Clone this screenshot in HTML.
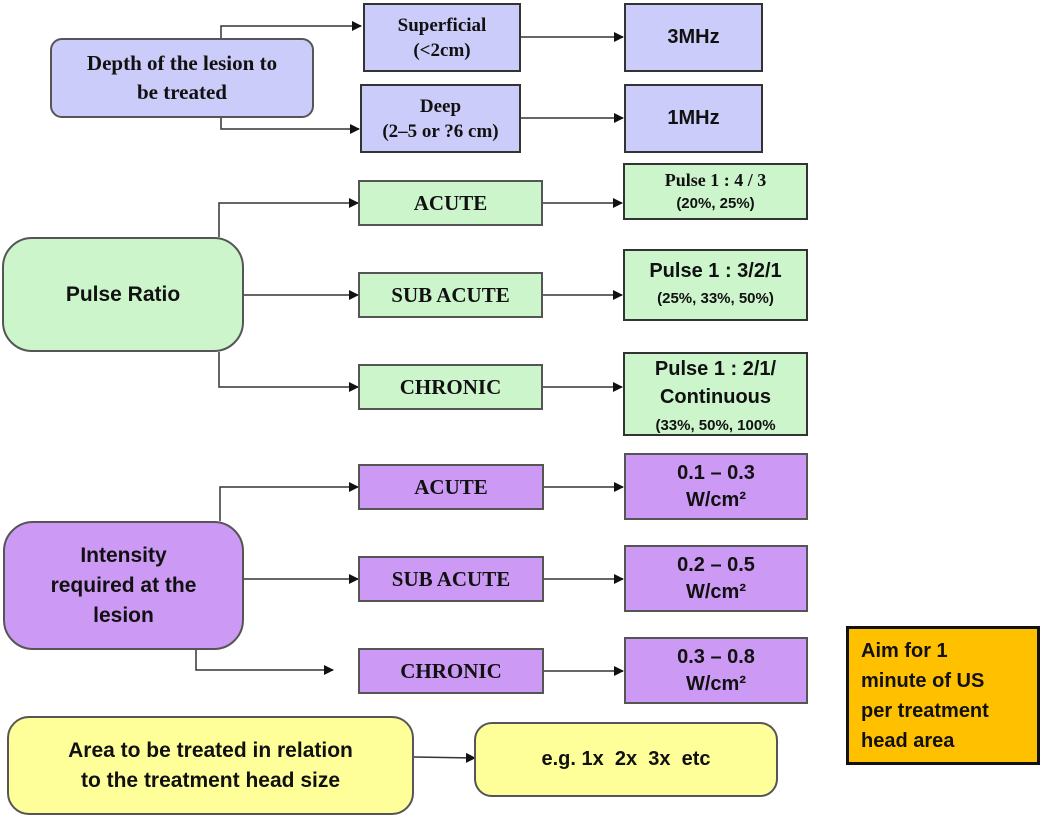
<!DOCTYPE html>
<html><head><style>
body{margin:0;width:1044px;height:820px;background:#fff;position:relative;overflow:hidden;font-family:"Liberation Sans",sans-serif;}
.b{position:absolute;box-sizing:border-box;display:flex;align-items:center;justify-content:center;text-align:center;font-weight:bold;color:#111;border:2px solid #555;}
.s{font-family:"Liberation Serif",serif;}
.bl{background:#ccccfa;}
.gr{background:#ccf5cc;}
.pu{background:#cc99f5;}
.ye{background:#ffff99;}
svg{position:absolute;left:0;top:0;}
</style></head><body>
<svg width="1044" height="820">
<defs><marker id="a" markerWidth="10" markerHeight="10" refX="9" refY="5" orient="auto" markerUnits="userSpaceOnUse"><path d="M0,0 L10,5 L0,10z" fill="#111"/></marker></defs>
<g stroke="#333" stroke-width="1.5" fill="none" marker-end="url(#a)">
<path d="M221,38 V26 H361"/>
<path d="M221,118 V129 H359"/>
<path d="M520,37 H623"/>
<path d="M520,118 H623"/>
<path d="M219,237 V203 H358"/>
<path d="M243,295 H358"/>
<path d="M219,352 V387 H358"/>
<path d="M543,203 H622"/>
<path d="M543,295 H622"/>
<path d="M543,387 H622"/>
<path d="M220,521 V487 H358"/>
<path d="M243,579 H358"/>
<path d="M196,650 V670 H333"/>
<path d="M544,487 H623"/>
<path d="M544,579 H623"/>
<path d="M544,671 H623"/>
<path d="M414,757 L475,758"/>
</g></svg>

<div class="b bl s" style="left:50px;top:38px;width:264px;height:80px;border-radius:12px;font-size:21px;line-height:29px;">Depth of the lesion to<br>be treated</div>
<div class="b bl s" style="left:363px;top:3px;width:158px;height:69px;font-size:19px;line-height:25px;border-color:#333">Superficial<br>(&lt;2cm)</div>
<div class="b bl s" style="left:360px;top:84px;width:161px;height:69px;font-size:19px;line-height:25px;border-color:#333">Deep<br>(2–5 or ?6 cm)</div>
<div class="b bl" style="left:624px;top:3px;width:139px;height:69px;font-size:20px;border-color:#333">3MHz</div>
<div class="b bl" style="left:624px;top:84px;width:139px;height:69px;font-size:20px;border-color:#333">1MHz</div>

<div class="b gr" style="left:2px;top:237px;width:242px;height:115px;border-radius:30px;font-size:21px;">Pulse Ratio</div>
<div class="b gr s" style="left:358px;top:180px;width:185px;height:46px;font-size:21px;">ACUTE</div>
<div class="b gr s" style="left:358px;top:272px;width:185px;height:46px;font-size:21px;">SUB ACUTE</div>
<div class="b gr s" style="left:358px;top:364px;width:185px;height:46px;font-size:21px;">CHRONIC</div>
<div class="b gr" style="left:623px;top:163px;width:185px;height:57px;font-size:15px;line-height:22px;border-color:#333"><div><span class="s" style="font-size:18px">Pulse 1 : 4 / 3</span><br>(20%, 25%)</div></div>
<div class="b gr" style="left:623px;top:249px;width:185px;height:72px;font-size:15px;line-height:26px;border-color:#333"><div><span style="font-size:20px">Pulse 1 : 3/2/1</span><br>(25%, 33%, 50%)</div></div>
<div class="b gr" style="left:623px;top:352px;width:185px;height:84px;font-size:15px;line-height:27px;border-color:#333;align-items:flex-start;overflow:hidden"><div style="margin-top:2px"><span style="font-size:20px">Pulse 1 : 2/1/<br>Continuous</span><br>(33%, 50%, 100%</div></div>

<div class="b pu" style="left:3px;top:521px;width:241px;height:129px;border-radius:30px;font-size:21px;line-height:30px;">Intensity<br>required at the<br>lesion</div>
<div class="b pu s" style="left:358px;top:464px;width:186px;height:46px;font-size:21px;">ACUTE</div>
<div class="b pu s" style="left:358px;top:556px;width:186px;height:46px;font-size:21px;">SUB ACUTE</div>
<div class="b pu s" style="left:358px;top:648px;width:186px;height:46px;font-size:21px;">CHRONIC</div>
<div class="b pu" style="left:624px;top:453px;width:184px;height:67px;font-size:20px;line-height:27px;">0.1 – 0.3<br>W/cm²</div>
<div class="b pu" style="left:624px;top:545px;width:184px;height:67px;font-size:20px;line-height:27px;">0.2 – 0.5<br>W/cm²</div>
<div class="b pu" style="left:624px;top:637px;width:184px;height:67px;font-size:20px;line-height:27px;">0.3 – 0.8<br>W/cm²</div>

<div class="b ye" style="left:7px;top:716px;width:407px;height:99px;border-radius:22px;font-size:21px;line-height:30px;">Area to be treated in relation<br>to the treatment head size</div>
<div class="b ye" style="left:474px;top:722px;width:304px;height:75px;border-radius:18px;font-size:20px;">e.g. 1x&nbsp; 2x&nbsp; 3x&nbsp; etc</div>

<div class="b" style="left:846px;top:626px;width:194px;height:139px;background:#ffc000;border:3px solid #111;justify-content:flex-start;text-align:left;padding-left:12px;font-size:20px;line-height:30px;">Aim for 1<br>minute of US<br>per treatment<br>head area</div>
</body></html>
